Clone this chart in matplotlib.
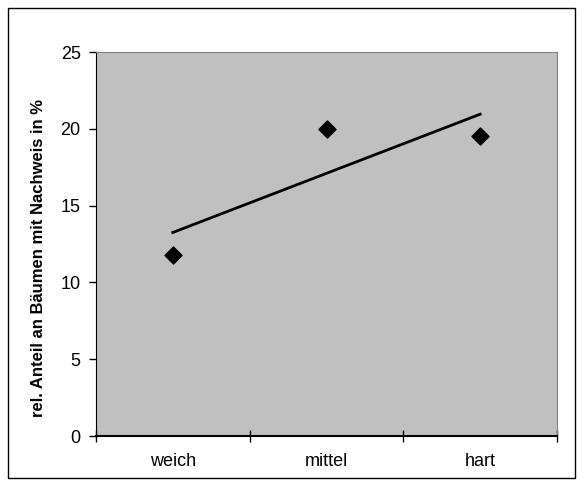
import matplotlib
matplotlib.use('Agg')
from matplotlib import pyplot as plt
from matplotlib.patches import Rectangle
import numpy as np

plt.rcParams['font.family'] = ['Liberation Sans', 'DejaVu Sans']

categories = ['weich', 'mittel', 'hart']
anteil = [11.8, 20.0, 19.5]

x = np.arange(1, len(categories) + 1)
# linear trend line like the spreadsheet one
slope, icpt = np.polyfit(x, anteil, 1)

fig = plt.figure(figsize=(5.83, 4.86), dpi=100)
ax = fig.add_axes([96/583, 1-436/486, (557-96)/583, (436-52)/486])
ax.set_facecolor('#c0c0c0')

ax.plot(x, slope*x + icpt, color='black', lw=2)
ax.scatter(x, anteil, marker='D', s=75, color='black', zorder=3)

ax.set_xlim(0.5, 3.5)
ax.set_ylim(0, 25)
ax.set_yticks([0, 5, 10, 15, 20, 25])
ax.set_xticks([0.5, 1.5, 2.5, 3.5])
ax.set_xticklabels([])
ax.set_xticks(x, minor=True)
ax.set_xticklabels(categories, minor=True)
ax.tick_params(axis='x', which='major', direction='inout', length=9, width=1)
ax.tick_params(axis='x', which='minor', length=0, pad=12, labelsize=13)
ax.tick_params(axis='y', direction='out', length=5, width=1, labelsize=13, pad=6)

for s in ['top', 'right']:
    ax.spines[s].set_color('#808080')
for s in ['left', 'bottom']:
    ax.spines[s].set_color('black')
ax.spines['bottom'].set_linewidth(1.5)

ax.set_ylabel('rel. Anteil an Bäumen mit Nachweis in %', fontsize=12,
              fontweight='bold')
ax.yaxis.set_label_coords(-(96-46)/461, (436-258)/384)

# border around the whole chart
fig.patches.append(Rectangle((8/583, 8/486), 567/583, 470/486, transform=fig.transFigure,
                             fill=False, edgecolor='black', lw=1))

fig.savefig('out.png', dpi=100)
